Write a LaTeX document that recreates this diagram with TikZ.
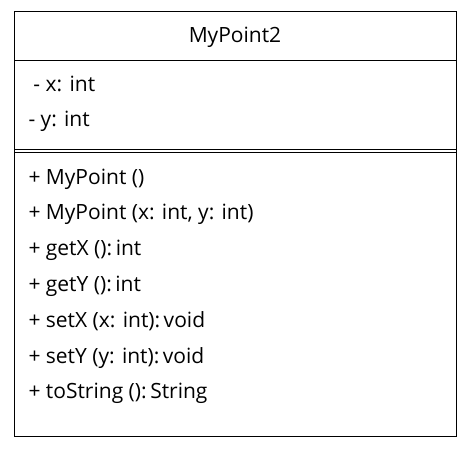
\documentclass[tikz,border=0pt]{standalone}
\usepackage{fontspec}
\setmainfont{Open Sans}
\begin{document}
\begin{tikzpicture}[x=1pt,y=-1pt,line width=1pt,
  txt/.style={anchor=base west,inner sep=0pt,font=\fontsize{21}{24}\selectfont}]
\useasboundingbox (0,0) rectangle (472,452);
\draw (14,12) rectangle (456,436);
\draw (14,60.5) -- (456,60.5);
\draw (14,149.5) -- (456,149.5);
\draw (14,152.5) -- (456,152.5);
\path node (c0) at (235,43) [txt,anchor=base] {MyPoint2}
node (a1) at (33,92) [txt] {- x: int}
node (a2) at (28,127) [txt] {- y: int}
node (m1) at (28,184) [txt] {+ MyPoint ()}
node (m2) at (28,219.8) [txt] {+ MyPoint (x: int, y: int)}
node (m3) at (28,255.6) [txt] {+ getX ():\,int}
node (m4) at (28,291.4) [txt] {+ getY ():\,int}
node (m5) at (28,327.2) [txt] {+ setX (x: int):\,void}
node (m6) at (28,363) [txt] {+ setY (y: int):\,void}
node (m7) at (28,398.8) [txt] {+ toString ():\,String};
\end{tikzpicture}
\end{document}
